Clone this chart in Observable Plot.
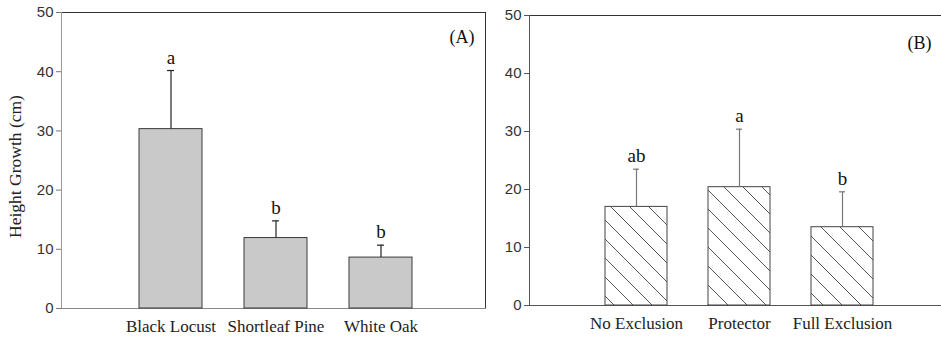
<!DOCTYPE html>
<html><head><meta charset="utf-8">
<script src="https://cdn.jsdelivr.net/npm/d3@7"></script>
<script src="https://cdn.jsdelivr.net/npm/@observablehq/plot@0.6"></script>
<style>
html,body{margin:0;padding:0;background:#fff;overflow:hidden;width:941px;height:339px;}
#a{position:absolute;left:0;top:0;width:490px;height:339px;}
#b{position:absolute;left:480px;top:0;width:470px;height:339px;}
</style></head><body><div id="a"></div><div id="b"></div>
<script>
const species = ["Black Locust", "Shortleaf Pine", "White Oak"];
const speciesMean = [30.3, 11.9, 8.6];
const speciesErr = [9.9, 2.9, 2.1];
const speciesLetter = ["a", "b", "b"];

const treatments = ["No Exclusion", "Protector", "Full Exclusion"];
const treatmentMean = [17.0, 20.4, 13.5];
const treatmentErr = [6.5, 10.0, 6.1];
const treatmentLetter = ["ab", "a", "b"];

const yTicks = [0, 10, 20, 30, 40, 50];
const yLabel = "Height Growth (cm)";
const panelLabels = ["(A)", "(B)"];

const SERIF = "'Liberation Serif', 'DejaVu Serif', serif";
const SANS = "'Liberation Sans', Arial, sans-serif";

function rows(cats, means, errs, letters) {
  return cats.map((c, i) => ({cat: c, mean: means[i], top: means[i] + errs[i], letter: letters[i]}));
}

const dataA = rows(species, speciesMean, speciesErr, speciesLetter);
const dataB = rows(treatments, treatmentMean, treatmentErr, treatmentLetter);

const left = Plot.plot({
  width: 490, height: 339,
  marginLeft: 61, marginRight: 5, marginTop: 12, marginBottom: 31,
  style: {background: "transparent", fontFamily: SANS},
  x: {domain: species, paddingInner: 0.4, paddingOuter: 0, insetLeft: 77, insetRight: 72.7},
  y: {domain: [0, 50]},
  marks: [
    Plot.frame({anchor: "top", stroke: "#333"}),
    Plot.frame({anchor: "right", stroke: "#333"}),
    Plot.frame({anchor: "left", stroke: "#9a9a9a"}),
    Plot.frame({anchor: "bottom", stroke: "#888"}),
    Plot.barY(dataA, {x: "cat", y: "mean", fill: "#c9c9c9", stroke: "#3a3a3a", strokeWidth: 1}),
    Plot.ruleX(dataA, {x: "cat", y1: "mean", y2: "top", stroke: "#222", strokeWidth: 1.2}),
    Plot.tickY(dataA, {x: "cat", y: "top", stroke: "#222", strokeWidth: 1.2, insetLeft: 28, insetRight: 28}),
    Plot.text(dataA, {x: "cat", y: "top", text: "letter", dy: -7, lineAnchor: "bottom", fontSize: 19, fontFamily: SERIF, fill: "#111"}),
    Plot.axisY({ticks: yTicks, tickSize: 5, tickPadding: 3, fontSize: 15, stroke: "#777", fill: "#333", label: null}),
    Plot.axisX({tickSize: 0, tickPadding: 11, fontSize: 17, fontFamily: SERIF, fill: "#222", label: null}),
    Plot.text([panelLabels[0]], {text: d => d, frameAnchor: "top-right", dx: -23.5, dy: 25, textAnchor: "middle", lineAnchor: "middle", fontSize: 18, fontFamily: SERIF, fill: "#111"}),
    Plot.text([yLabel], {text: d => d, frameAnchor: "left", dx: -46, dy: 6, rotate: -90, textAnchor: "middle", lineAnchor: "middle", fontSize: 17.5, fontFamily: SERIF, fill: "#222"})
  ]
});
document.getElementById("a").appendChild(left);

const right = Plot.plot({
  width: 470, height: 339,
  marginLeft: 49, marginRight: 0, marginTop: 15, marginBottom: 34,
  style: {background: "transparent", fontFamily: SANS},
  x: {domain: treatments, paddingInner: 0.4, paddingOuter: 0, insetLeft: 74.7, insetRight: 76.7},
  y: {domain: [0, 50]},
  marks: [
    Plot.frame({anchor: "top", stroke: "#333"}),
    Plot.frame({anchor: "left", stroke: "#555"}),
    Plot.frame({anchor: "bottom", stroke: "#555"}),
    Plot.barY(dataB, {x: "cat", y: "mean", fill: "url(#hatchB)", stroke: "#444", strokeWidth: 1}),
    Plot.ruleX(dataB, {x: "cat", y1: "mean", y2: "top", stroke: "#777", strokeWidth: 1.2}),
    Plot.tickY(dataB, {x: "cat", y: "top", stroke: "#777", strokeWidth: 1.2, insetLeft: 28, insetRight: 28}),
    Plot.text(dataB, {x: "cat", y: "top", text: "letter", dy: -7, lineAnchor: "bottom", fontSize: 19, fontFamily: SERIF, fill: "#111"}),
    Plot.axisY({ticks: yTicks, tickSize: 5, tickPadding: 3, fontSize: 15, stroke: "#555", fill: "#333", label: null}),
    Plot.axisX({tickSize: 0, tickPadding: 11, fontSize: 17, fontFamily: SERIF, fill: "#222", label: null}),
    Plot.text([panelLabels[1]], {text: d => d, frameAnchor: "top-left", dx: 390, dy: 28, textAnchor: "middle", lineAnchor: "middle", fontSize: 18, fontFamily: SERIF, fill: "#111"})
  ]
});
const defs = d3.select(right).insert("defs", ":first-child");
const pat = defs.append("pattern").attr("id", "hatchB").attr("patternUnits", "userSpaceOnUse")
  .attr("width", 19).attr("height", 19);
pat.append("rect").attr("width", 19).attr("height", 19).attr("fill", "#fff");
pat.append("path").attr("d", "M0,0L19,19M-2,17L2,21M17,-2L21,2")
  .attr("stroke", "#444").attr("stroke-width", 0.9).attr("fill", "none");
document.getElementById("b").appendChild(right);
</script>
</body></html>
